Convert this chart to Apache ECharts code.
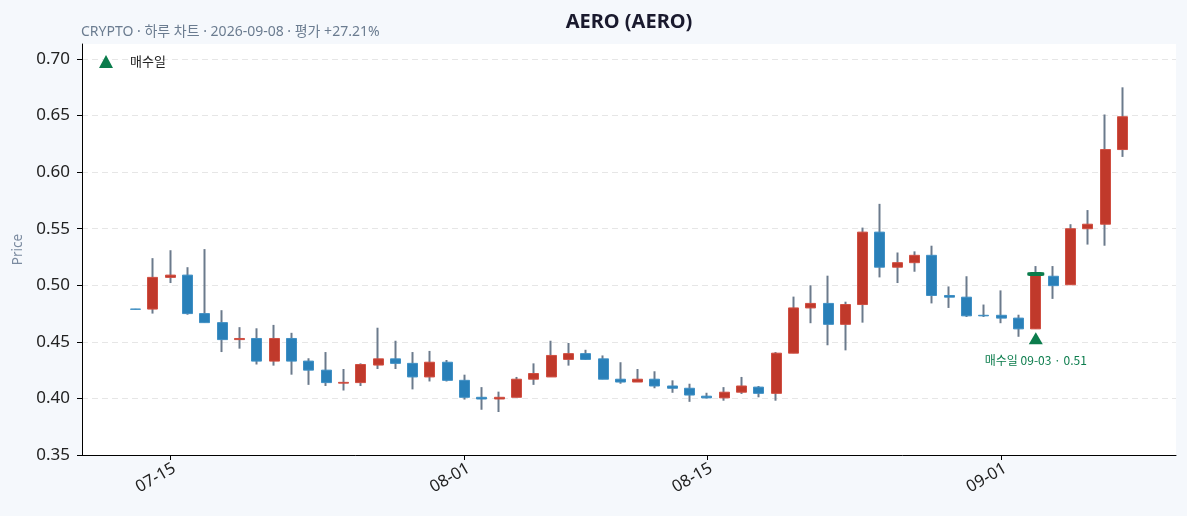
<!DOCTYPE html>
<html>
<head>
<meta charset="utf-8">
<script src="https://cdn.jsdelivr.net/npm/echarts/dist/echarts.min.js"></script>
<style>
  html, body { margin: 0; padding: 0; background: #f5f8fc; }
  #chart { width: 1187px; height: 516px; }
</style>
</head>
<body>
<div id="chart"></div>
<script>
// ---- data ----
const dates = ['07-13','07-14','07-15','07-16','07-17','07-18','07-19','07-20','07-21','07-22','07-23','07-24','07-25','07-26','07-27','07-28','07-29','07-30','07-31','08-01','08-02','08-03','08-04','08-05','08-06','08-07','08-08','08-09','08-10','08-11','08-12','08-13','08-14','08-15','08-16','08-17','08-18','08-19','08-20','08-21','08-22','08-23','08-24','08-25','08-26','08-27','08-28','08-29','08-30','08-31','09-01','09-02','09-03','09-04','09-05','09-06','09-07','09-08'];
const opens  = [0.4790,0.4790,0.5070,0.5090,0.4750,0.4670,0.4520,0.4530,0.4330,0.4530,0.4330,0.4250,0.4135,0.4140,0.4295,0.4350,0.4310,0.4190,0.4320,0.4160,0.4010,0.3995,0.4010,0.4170,0.4190,0.4345,0.4396,0.4350,0.4170,0.4145,0.4170,0.4110,0.4090,0.4020,0.4005,0.4055,0.4100,0.4045,0.4400,0.4800,0.4840,0.4655,0.4830,0.5470,0.5160,0.5200,0.5265,0.4910,0.4895,0.4735,0.4735,0.4710,0.4615,0.5080,0.5005,0.5500,0.5540,0.6200];
const closes = [0.4788,0.5070,0.5090,0.4750,0.4670,0.4520,0.4530,0.4330,0.4530,0.4330,0.4250,0.4140,0.4142,0.4300,0.4350,0.4310,0.4190,0.4320,0.4160,0.4010,0.3995,0.4010,0.4170,0.4220,0.4380,0.4396,0.4345,0.4170,0.4145,0.4170,0.4110,0.4090,0.4030,0.4005,0.4055,0.4110,0.4045,0.4400,0.4800,0.4840,0.4655,0.4830,0.5470,0.5160,0.5200,0.5265,0.4910,0.4895,0.4730,0.4730,0.4710,0.4615,0.5090,0.4997,0.5500,0.5540,0.6200,0.6490];
const lows   = [0.4786,0.4750,0.5020,0.4740,0.4670,0.4410,0.4440,0.4300,0.4290,0.4210,0.4120,0.4110,0.4070,0.4110,0.4260,0.4260,0.4080,0.4150,0.4150,0.3990,0.3900,0.3880,0.4010,0.4120,0.4190,0.4290,0.4340,0.4170,0.4130,0.4145,0.4090,0.4050,0.3970,0.4000,0.3980,0.4040,0.4010,0.3980,0.4400,0.4665,0.4470,0.4425,0.4670,0.5070,0.5020,0.5120,0.4840,0.4800,0.4720,0.4720,0.4665,0.4545,0.4615,0.4880,0.5005,0.5360,0.5350,0.6135];
const highs  = [0.4792,0.5240,0.5310,0.5160,0.5320,0.4780,0.4630,0.4620,0.4650,0.4580,0.4355,0.4410,0.4260,0.4310,0.4625,0.4510,0.4410,0.4420,0.4340,0.4210,0.4100,0.4060,0.4190,0.4310,0.4510,0.4490,0.4430,0.4380,0.4320,0.4260,0.4240,0.4160,0.4130,0.4050,0.4100,0.4190,0.4110,0.4410,0.4900,0.5000,0.5085,0.4855,0.5510,0.5720,0.5290,0.5300,0.5350,0.4990,0.5080,0.4830,0.4955,0.4740,0.5170,0.5170,0.5540,0.5665,0.6510,0.6750];
const tickLabels = ['07-15','08-01','08-15','09-01'];
const yTicks = [0.35,0.40,0.45,0.50,0.55,0.60,0.65,0.70];
const buyDate = '09-03';
const buyPrice = 0.51;
const titleText = 'AERO (AERO)';
const subText = 'CRYPTO · 하루 차트 · 2026-09-08 · 평가 +27.21%';

// ---- build ----
const FONT = '"Noto Sans", "Noto Sans CJK KR", sans-serif';
const CJK = '"Noto Sans CJK KR", "Noto Sans", sans-serif';
const GREEN = '#0b7c4c';
const wickData = dates.map((d, i) => [i, opens[i], closes[i], lows[i], highs[i]]);
const bodyData = dates.map((d, i) => [i, opens[i], closes[i], Math.min(opens[i], closes[i]), Math.max(opens[i], closes[i])]);
const tickIdx = tickLabels.map(t => dates.indexOf(t));
const buyIdx = dates.indexOf(buyDate);

const chart = echarts.init(document.getElementById('chart'), null, { renderer: 'canvas' });
chart.setOption({
  animation: false,
  backgroundColor: '#f5f8fc',
  title: [
    { text: titleText, left: 624, top: 7, textAlign: 'center',
      textStyle: { fontFamily: FONT, fontSize: 20, fontWeight: 'bold', color: '#1a1a2e' } },
    { text: subText, left: 76, top: 20,
      textStyle: { fontFamily: FONT, fontSize: 14, fontWeight: 'normal', color: '#6b7c90' } }
  ],
  legend: {
    left: 94, top: 50,
    data: [{ name: '매수일', icon: 'triangle' }],
    itemWidth: 14, itemHeight: 13,
    textStyle: { fontFamily: CJK, fontSize: 13, color: '#222', padding: [0, 0, 0, 12] }
  },
  grid: { left: 82, right: 11, top: 44, bottom: 61, show: true, backgroundColor: '#ffffff', borderWidth: 0 },
  xAxis: {
    type: 'value', min: -3.1, max: 60.1,
    axisLine: { show: true, onZero: false, lineStyle: { color: '#000', width: 1 } },
    axisTick: { show: true, length: 5, lineStyle: { color: '#000' }, customValues: tickIdx },
    axisLabel: { customValues: tickIdx, rotate: 30, fontFamily: FONT, fontSize: 16.5, color: '#222', margin: 5,
      align: 'right', verticalAlign: 'top',
      formatter: v => dates[Math.round(v)] },
    splitLine: { show: false }
  },
  yAxis: {
    type: 'value', min: 0.35, max: 0.7133, interval: 0.05,
    name: 'Price', nameLocation: 'middle', nameGap: 55,
    nameTextStyle: { fontFamily: FONT, fontSize: 13.5, color: '#7b8ba0' },
    axisLine: { show: true, onZero: false, lineStyle: { color: '#000', width: 1 } },
    axisTick: { show: true, length: 5, lineStyle: { color: '#000' }, customValues: yTicks },
    axisLabel: { customValues: yTicks, fontFamily: FONT, fontSize: 17, color: '#222', margin: 12,
      formatter: v => v.toFixed(2) },
    splitLine: { show: true, lineStyle: { color: '#e6e6e6', type: [6, 4], width: 1 } }
  },
  series: [
    {
      name: 'wick', type: 'candlestick', data: wickData, barWidth: 1,
      encode: { x: 0, y: [1, 2, 3, 4] },
      itemStyle: { color: '#6b7a8c', color0: '#6b7a8c', borderColor: '#6b7a8c', borderColor0: '#6b7a8c', borderWidth: 2 },
      z: 2
    },
    {
      name: 'body', type: 'candlestick', data: bodyData, barWidth: 10.5,
      encode: { x: 0, y: [1, 2, 3, 4] },
      itemStyle: { color: '#c0392b', color0: '#2980b9', borderColor: '#d04e41', borderColor0: '#3f8fc4', borderWidth: 1 },
      z: 3
    },
    {
      name: '매수가', type: 'scatter', data: [[buyIdx, buyPrice]],
      symbol: 'roundRect', symbolSize: [17, 4],
      itemStyle: { color: GREEN, opacity: 1 }, z: 4
    },
    {
      name: '매수일', type: 'scatter', data: [[buyIdx, lows[buyIdx] * 0.982]],
      symbol: 'triangle', symbolSize: [14, 12],
      itemStyle: { color: GREEN, opacity: 1 }, z: 4,
      label: { show: true, position: 'bottom', distance: 10,
        formatter: '매수일 ' + buyDate + ' · ' + buyPrice.toFixed(2),
        fontFamily: CJK, fontSize: 12, color: GREEN }
    }
  ]
});
</script>
</body>
</html>
